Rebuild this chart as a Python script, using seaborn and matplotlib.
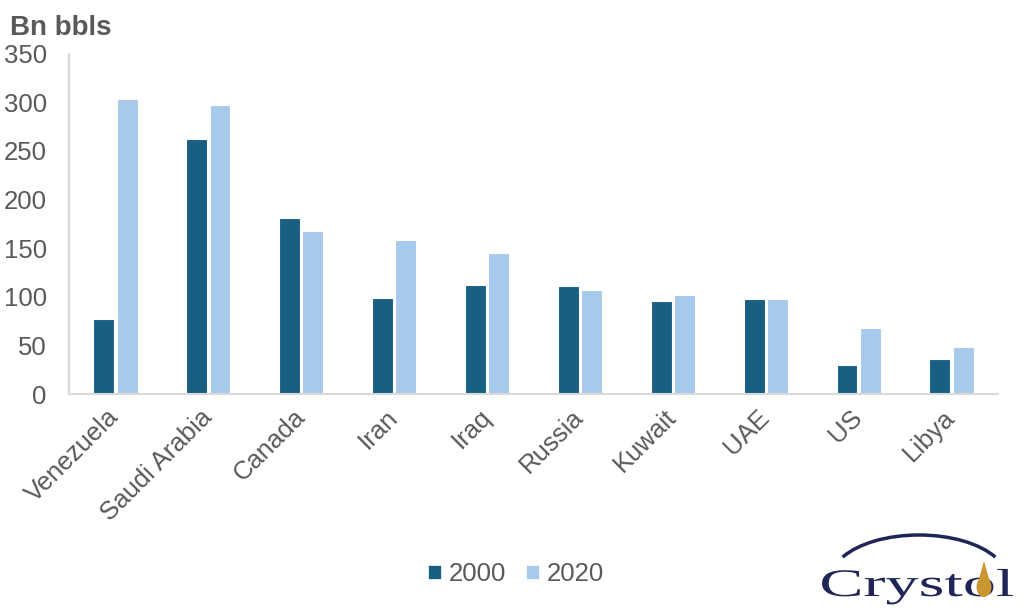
import numpy as np
import pandas as pd
import matplotlib
matplotlib.use("Agg")
from matplotlib import pyplot as plt
from matplotlib.patches import Patch, Arc, PathPatch, Ellipse, Polygon
from matplotlib.textpath import TextPath
from matplotlib.font_manager import FontProperties
from matplotlib.transforms import Affine2D
import seaborn as sns

# proven reserves, billion barrels
countries = ["Venezuela", "Saudi Arabia", "Canada", "Iran", "Iraq",
             "Russia", "Kuwait", "UAE", "US", "Libya"]
reserves_2000 = [77, 262, 181, 99, 112, 111, 96, 98, 30, 36]
reserves_2020 = [303, 297, 168, 158, 145, 107, 101.5, 98, 68, 48]
years = ["2000", "2020"]
colors = ["#185F82", "#A7CAEB"]

df = pd.DataFrame({
    "country": countries * 2,
    "year": [years[0]] * len(countries) + [years[1]] * len(countries),
    "reserves": reserves_2000 + reserves_2020,
})

sns.set_style("white")
plt.rcParams["font.family"] = ["Liberation Sans", "DejaVu Sans"]
text_grey = "#595959"
line_grey = "#D9D9D9"

fig = plt.figure(figsize=(10.24, 6.14), dpi=100)
ax = fig.add_axes([69 / 1024, 1 - 394 / 614, 929 / 1024, 340.5 / 614])

sns.barplot(data=df, x="country", y="reserves", hue="year", palette=colors,
            saturation=1, width=0.5, gap=0.1, edgecolor="white", linewidth=0.8,
            legend=False, ax=ax)

ax.set_xlim(-0.5, len(countries) - 0.5)
ax.set_ylim(0, 350)
ax.set_yticks(range(0, 351, 50))
ax.set_xlabel("")
ax.set_ylabel("")
sns.despine(ax=ax)
for side in ["left", "bottom"]:
    ax.spines[side].set_color(line_grey)
    ax.spines[side].set_linewidth(1.5)
ax.tick_params(axis="y", direction="in", length=5, width=1.2, color=line_grey,
               labelsize=18.5, labelcolor=text_grey, pad=16)
ax.tick_params(axis="x", length=0, labelsize=18.5, labelcolor=text_grey, pad=14)
plt.setp(ax.get_xticklabels(), rotation=45, ha="right", va="center",
         rotation_mode="anchor")

fig.text(10 / 1024, 1 - 35 / 614, "Bn bbls", fontsize=20, fontweight="bold",
         color=text_grey, va="baseline", ha="left")

handles = [Patch(facecolor=c, edgecolor="white", linewidth=0.5) for c in colors]
fig.legend(handles, years, loc="center", bbox_to_anchor=(516 / 1024, 1 - 574 / 614),
           ncol=2, frameon=False, fontsize=18.5, labelcolor=text_grey,
           handlelength=0.5, handleheight=0.5, handletextpad=0.3, columnspacing=0.75)

# logo in the corner (pixel units, origin at bottom-left of the box)
navy = "#1F2557"
gold = "#C9962F"
logo = fig.add_axes([800 / 1024, 0, 224 / 1024, 94 / 614])
logo.set_xlim(0, 224)
logo.set_ylim(0, 94)
logo.axis("off")
logo.add_patch(Arc((119, 35), 176, 88, theta1=16, theta2=164, color=navy, lw=2.5))
tp = TextPath((0, 0), "Crystol", size=1,
              prop=FontProperties(family=["Liberation Serif", "DejaVu Serif"]))
ext = tp.get_extents()
tr = Affine2D().translate(-ext.x0, 0).scale(191 / ext.width, 39).translate(22, 18)
logo.add_patch(PathPatch(tr.transform_path(tp), facecolor=navy, edgecolor="none"))
# oil drop over the "o"
logo.add_patch(Ellipse((184, 27), 15, 20, facecolor=gold, edgecolor="none"))
logo.add_patch(Polygon([[177.5, 30], [184, 53], [190.5, 30]], closed=True,
                       facecolor=gold, edgecolor="none"))

fig.savefig("out.png", dpi=100)
